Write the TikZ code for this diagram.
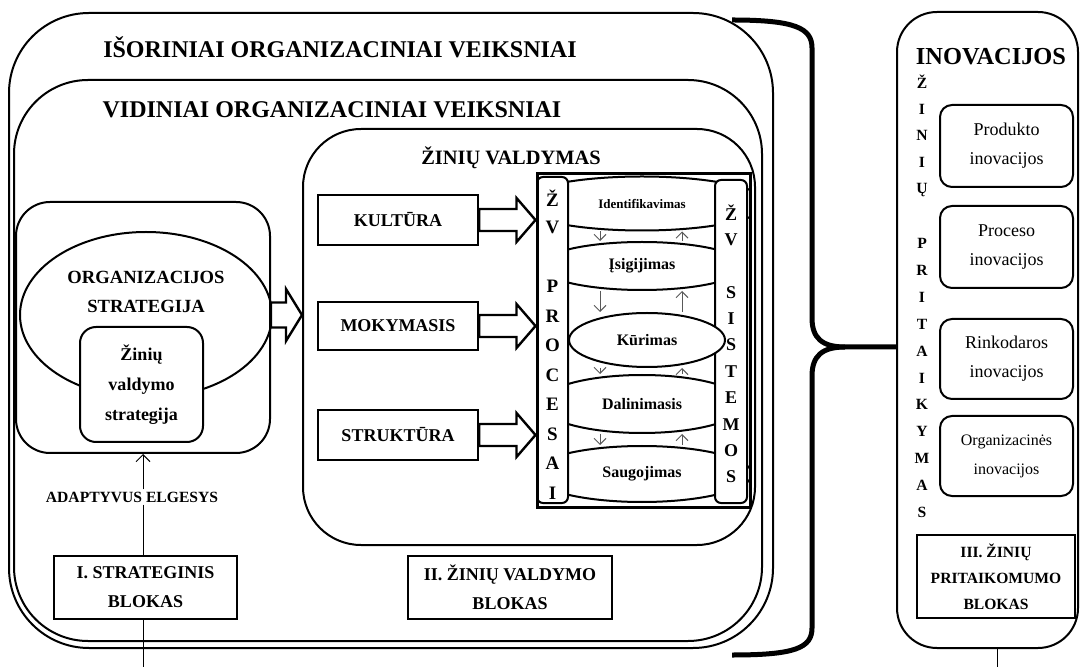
\documentclass[tikz,border=0pt]{standalone}
\usepackage{fontspec}
\setmainfont{Liberation Serif}
\usetikzlibrary{calc,shapes.geometric,arrows.meta}

% hollow block arrow: from, to, half shaft, half head, head length
\newcommand\fatarrow[5]{%
  \draw[fatarr] let \p1=(#1), \p2=(#2) in
    (\x1,\y1+#3) -- (\x2-#5,\y1+#3) -- (\x2-#5,\y1+#4) -- (\x2,\y1)
    -- (\x2-#5,\y1-#4) -- (\x2-#5,\y1-#3) -- (\x1,\y1-#3) -- cycle;}

\begin{document}
\begin{tikzpicture}[x=0.5pt,y=-0.5pt,
  frame/.style={draw,line width=1pt,inner sep=0pt},
  blok/.style={draw,line width=1.2pt,fill=white,inner sep=0pt,align=center,
    font=\bfseries\fontsize{9}{14.5}\selectfont},
  ttl/.style={font=\bfseries\fontsize{12}{14}\selectfont,inner sep=0pt},
  proc/.style={ellipse,draw,line width=1pt,fill=white,inner sep=0pt,
    font=\bfseries\fontsize{8}{10}\selectfont},
  vletter/.style={font=\bfseries\fontsize{9.5}{11}\selectfont,inner sep=0pt},
  inbox/.style={draw,line width=1pt,rounded corners=6pt,inner sep=0pt,align=center,
    minimum width=66.5pt,font=\fontsize{9}{14.5}\selectfont},
  fatarr/.style={draw,line width=1.2pt,fill=white,line join=miter},
  flowarr/.style={-{Straight Barb[length=3pt,width=6pt]},gray!70!black,line width=0.5pt},
  thin/.style={line width=0.5pt},
  brace/.style={line width=2.5pt,line cap=butt}]
  \useasboundingbox (0,0) rectangle (1080,667);

  % containers
  \node[frame,rounded corners=40pt,minimum width=382pt,minimum height=317.5pt] (isor) at (391,330.5) {};
  \node[frame,rounded corners=37pt,minimum width=374pt,minimum height=280.5pt] (vidin) at (388,360.5) {};
  \node[frame,rounded corners=29pt,minimum width=226pt,minimum height=208pt] (zvald) at (529,337) {};
  \node[ttl] (isortxt) at (340,47) {IŠORINIAI ORGANIZACINIAI VEIKSNIAI};
  \node[ttl] (vidintxt) at (332,110) {VIDINIAI ORGANIZACINIAI VEIKSNIAI};
  \node[ttl,font=\bfseries\fontsize{10.2}{12}\selectfont] (zvaldtxt) at (511,158) {ŽINIŲ VALDYMAS};

  % strategy
  \node[frame,rounded corners=17pt,minimum width=127pt,minimum height=125.5pt] (strat) at (143,327.5) {};
  \node[ellipse,draw,line width=1pt,inner sep=0pt,minimum width=126pt,minimum height=83pt] (orgstr) at (146,315) {};
  \node[align=center,font=\bfseries\fontsize{9.3}{14.5}\selectfont] (orgtxt) at (146,291.5) {ORGANIZACIJOS\\STRATEGIJA};
  \node[blok,line width=1pt,rounded corners=8pt,minimum width=61.5pt,minimum height=57.5pt,
    font=\bfseries\fontsize{9}{15}\selectfont] (zvstr) at (141.5,384.5) {Žinių\\valdymo\\strategija};
  \node[font=\bfseries\fontsize{7.8}{9}\selectfont,inner sep=1pt] (adapt) at (132,497) {ADAPTYVUS ELGESYS};
  \fatarrow{strat.east |- orgstr.east}{zvald.west |- orgstr.east}{6.25pt}{13pt}{8pt}

  % factors
  \node[blok,minimum width=80pt,minimum height=25pt] (kult) at (398,220) {KULTŪRA};
  \node[blok,minimum width=80pt,minimum height=24pt] (moky) at (398,326) {MOKYMASIS};
  \node[blok,minimum width=80pt,minimum height=25pt] (strukt) at (398,435) {STRUKTŪRA};

  % processes
  \begin{scope}
    \clip (537,174) rectangle (750,507);
    \node[proc,minimum width=125pt,minimum height=27pt,font=\bfseries\fontsize{6.5}{8}\selectfont]
      (ident) at (642,203.5) {Identifikavimas};
    \node[proc,minimum width=102pt,minimum height=24pt] (isig) at (642,266) {Įsigijimas};
    \node[proc,minimum width=102pt,minimum height=29pt] (dal) at (642,404) {Dalinimasis};
    \node[proc,minimum width=110pt,minimum height=28pt] (saug) at (642,474) {Saugojimas};
  \end{scope}
  \node[draw,line width=1pt,fill=white,rounded corners=3pt,minimum width=15.5pt,minimum height=163pt] (zvproc) at (552.5,340) {};
  \node[draw,line width=1pt,fill=white,rounded corners=3pt,minimum width=16pt,minimum height=161.5pt] (zvsist) at (731,341.5) {};
  \node[proc,minimum width=78pt,minimum height=27pt] (kur) at (647,340) {Kūrimas};
  \foreach \l [count=\i from 0] in {Ž,V,{},P,R,O,C,E,S,A,I}
    \node[vletter] (pl\i) at (552.5,198+29.5*\i) {\l};
  \foreach \l [count=\i from 0] in {Ž,V,{},S,I,S,T,E,M,O,S}
    \node[vletter,font=\bfseries\fontsize{9}{11}\selectfont] (sl\i) at (731,213+26.4*\i) {\l};
  \node[draw,line width=1.5pt,minimum width=106.5pt,minimum height=166.5pt,inner sep=0pt] (pframe) at (643.5,340.5) {};
  \coordinate (dn) at (600,0);
  \coordinate (up) at (682,0);
  \foreach \a/\b in {ident/isig,isig/kur,kur/dal,dal/saug}{
    \draw[flowarr] (\a.south -| dn) -- (\b.north -| dn);
    \draw[flowarr] (\b.north -| up) -- (\a.south -| up);
  }
  \foreach \f in {kult,moky,strukt}{
    \fatarrow{\f.east}{\f.east -| pframe.west}{5.5pt}{11pt}{9.5pt}
  }

  % blocks
  \node[blok,minimum width=91.5pt,minimum height=31.5pt] (blokI) at (145.5,587.5) {I. STRATEGINIS\\BLOKAS};
  \node[blok,minimum width=102pt,minimum height=31.5pt] (blokII) at (510,587.5) {II. ŽINIŲ VALDYMO\\BLOKAS};
  \draw[thin,-{Straight Barb[length=3.5pt,width=7pt]}] (adapt.north -| strat.south) -- (strat.south);
  \draw[thin] (adapt.south -| strat.south) -- (blokI.north -| strat.south);
  \coordinate (botL) at (143,667);
  \draw[thin] (blokI.south -| botL) -- (botL);

  % brace
  \coordinate (bracetip) at (897,347);
  \draw[brace] (732,20) .. controls (795,20) and (812,28) .. (812,48) -- (812,318)
    .. controls (812,338) and (822,347) .. (845,347) -- (bracetip);
  \draw[brace] (845,347) .. controls (822,347) and (812,356) .. (812,376) -- (812,628)
    .. controls (812,648) and (795,655) .. (732,655);

  % innovations
  \node[frame,rounded corners=20pt,minimum width=90.5pt,minimum height=318pt] (inov) at (987.5,330) {};
  \node[ttl,font=\bfseries\fontsize{12.2}{14}\selectfont] (inovtxt) at (991,57) {INOVACIJOS};
  \foreach \l [count=\i from 0] in {Ž,I,N,I,Ų,{},P,R,I,T,A,I,K,Y,M,A,S}
    \node[vletter,font=\bfseries\fontsize{7.8}{9}\selectfont] (il\i) at (922,82+26.9*\i) {\l};
  \node[inbox,minimum height=41pt] (prod) at (1006.5,146) {Produkto\\inovacijos};
  \node[inbox,minimum height=41pt] (procin) at (1006.5,247) {Proceso\\inovacijos};
  \node[inbox,minimum height=40pt] (rink) at (1006.5,359) {Rinkodaros\\inovacijos};
  \node[inbox,minimum height=40pt,font=\fontsize{8}{14.5}\selectfont] (orgin) at (1006.5,456) {Organizacinės\\inovacijos};
  \node[blok,minimum width=79pt,minimum height=41.5pt,font=\bfseries\fontsize{7.8}{13}\selectfont]
    (blokIII) at (996,576.5) {III. ŽINIŲ\\PRITAIKOMUMO\\BLOKAS};
  \coordinate (botR) at (997,667);
  \draw[thin] (inov.south -| botR) -- (botR);
\end{tikzpicture}
\end{document}
